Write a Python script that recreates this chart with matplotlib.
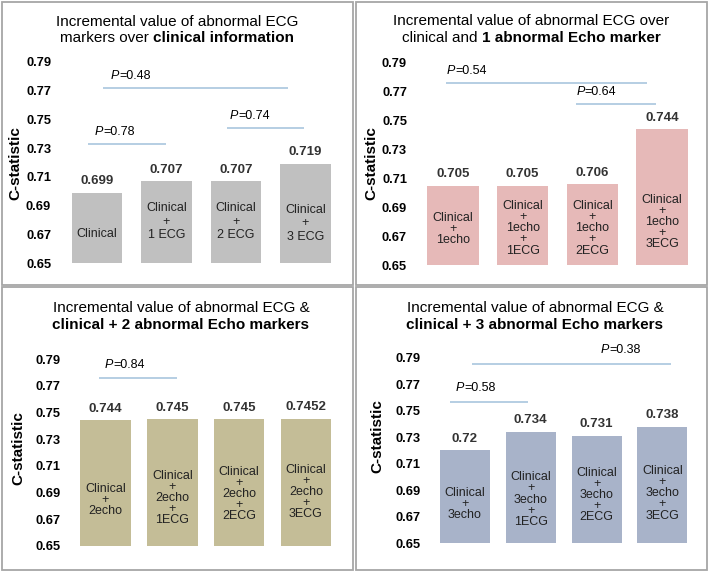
import matplotlib
matplotlib.use("Agg")
import matplotlib.pyplot as plt
from matplotlib.patches import Rectangle
from matplotlib.transforms import offset_copy

plt.rcParams['font.family'] = ['Liberation Sans', 'DejaVu Sans']

W, H = 709, 572

# ---------------- data ----------------
p1_values = [0.699, 0.707, 0.707, 0.719]
p1_value_labels = ["0.699", "0.707", "0.707", "0.719"]
p1_bar_text = ["Clinical", "Clinical\n+\n1 ECG", "Clinical\n+\n2 ECG", "Clinical\n+\n3 ECG"]
p1_title = [[("Incremental value of abnormal ECG", "normal")],
            [("markers over", "normal"), ("clinical information", "bold")]]
p1_pvals = [("0.48", 0.09, 2.75, 0.772), ("0.78", -0.13, 0.99, 0.733), ("0.74", 1.87, 2.98, 0.744)]

p2_values = [0.705, 0.705, 0.706, 0.744]
p2_value_labels = ["0.705", "0.705", "0.706", "0.744"]
p2_bar_text = ["Clinical\n+\n1echo", "Clinical\n+\n1echo\n+\n1ECG",
               "Clinical\n+\n1echo\n+\n2ECG", "Clinical\n+\n1echo\n+\n3ECG"]
p2_title = [[("Incremental value of abnormal ECG over", "normal")],
            [("clinical and", "normal"), ("1 abnormal Echo marker", "bold")]]
p2_pvals = [("0.54", -0.1, 2.78, 0.776), ("0.64", 1.76, 2.91, 0.7615)]

p3_values = [0.744, 0.745, 0.745, 0.7452]
p3_value_labels = ["0.744", "0.745", "0.745", "0.7452"]
p3_bar_text = ["Clinical\n+\n2echo", "Clinical\n+\n2echo\n+\n1ECG",
               "Clinical\n+\n2echo\n+\n2ECG", "Clinical\n+\n2echo\n+\n3ECG"]
p3_title = [[("Incremental value of abnormal ECG &", "normal")],
            [("clinical + 2 abnormal Echo markers", "bold")]]
p3_pvals = [("0.84", -0.1, 1.07, 0.776)]

p4_values = [0.72, 0.734, 0.731, 0.738]
p4_value_labels = ["0.72", "0.734", "0.731", "0.738"]
p4_bar_text = ["Clinical\n+\n3echo", "Clinical\n+\n3echo\n+\n1ECG",
               "Clinical\n+\n3echo\n+\n2ECG", "Clinical\n+\n3echo\n+\n3ECG"]
p4_title = [[("Incremental value of abnormal ECG &", "normal")],
            [("clinical + 3 abnormal Echo markers", "bold")]]
p4_pvals = [("0.38", 0.1, 3.13, 0.785), ("0.58", -0.23, 0.96, 0.7568)]

y_ticks = [0.65, 0.67, 0.69, 0.71, 0.73, 0.75, 0.77, 0.79]
y_label = "C-statistic"

# ---------------- layout (pixels) ----------------
panels = [
    dict(values=p1_values, vlabels=p1_value_labels, btext=p1_bar_text, title=p1_title, pvals=p1_pvals,
         color="#c0c0c0", x0=97, dx=69.5, y0=263, dy=1436, bw=0.72,
         text_y=[0.670, 0.6788, 0.6788, 0.6776], ls=1.15,
         title_x=177, title_y=[22, 38], ylab=(15, 163), box=(2, 2, 353, 285),
         ptext_x=[0.2, -0.03, 1.91], ptext_dy=0.0085),
    dict(values=p2_values, vlabels=p2_value_labels, btext=p2_bar_text, title=p2_title, pvals=p2_pvals,
         color="#e6b9b8", x0=453, dx=69.67, y0=265, dy=1443, bw=0.74,
         text_y=[0.6747, 0.6754, 0.6754, 0.680], ls=0.9,
         title_x=531, title_y=[21, 38], ylab=(371, 163), box=(356, 2, 707, 285),
         ptext_x=[-0.09, 1.77], ptext_dy=0.0085),
    dict(values=p3_values, vlabels=p3_value_labels, btext=p3_bar_text, title=p3_title, pvals=p3_pvals,
         color="#c4bd97", x0=105.5, dx=66.8, y0=545.7, dy=1333, bw=0.76,
         text_y=[0.684, 0.686, 0.689, 0.6905], ls=0.9,
         title_x=181, title_y=[308, 325], ylab=(18, 448), box=(2, 287, 353, 570),
         ptext_x=[-0.01], ptext_dy=0.0095),
    dict(values=p4_values, vlabels=p4_value_labels, btext=p4_bar_text, title=p4_title, pvals=p4_pvals,
         color="#a8b3c9", x0=465, dx=65.8, y0=543.3, dy=1326, bw=0.76,
         text_y=[0.6796, 0.683, 0.6864, 0.6877], ls=0.9,
         title_x=535, title_y=[308, 325], ylab=(377, 436), box=(356, 287, 707, 570),
         ptext_x=[2.06, -0.14], ptext_dy=0.0105),
]

fig = plt.figure(figsize=(W / 100, H / 100), dpi=100)
renderer = fig.canvas.get_renderer()

LINE_COLOR = "#a9c6de"


def fx(x):
    return x / W


def fy(y):
    return 1 - y / H


def mixed_line(parts, xc, y, size):
    """Draw a line of text made of parts with different weights, centred at xc (px)."""
    objs = []
    for txt, w in parts:
        t = fig.text(0, fy(y), txt, fontsize=size, fontweight=w, ha="left", va="center")
        objs.append(t)
    widths = [o.get_window_extent(renderer).width for o in objs]
    a = fig.text(0, 0, "aa", fontsize=size)
    b = fig.text(0, 0, "a a", fontsize=size)
    sp = b.get_window_extent(renderer).width - a.get_window_extent(renderer).width
    a.remove()
    b.remove()
    total = sum(widths) + sp * (len(objs) - 1)
    x = xc - total / 2
    for o, w in zip(objs, widths):
        o.set_x(fx(x))
        x += w + sp


def p_text(ax, x, y, val, size=9):
    t1 = ax.text(x, y, "P", fontsize=size, fontstyle="italic", ha="left", va="center")
    w = t1.get_window_extent(renderer).width
    tr = offset_copy(ax.transData, fig=fig, x=w, y=0, units="dots")
    ax.text(x, y, "=" + val, fontsize=size, ha="left", va="center", transform=tr)


for k, p in enumerate(panels):
    x1, y1, x2, y2 = p["box"]
    fig.patches.append(Rectangle((fx(x1), fy(y2)), fx(x2 - x1), (y2 - y1) / H,
                                 transform=fig.transFigure, fill=False,
                                 edgecolor="#a6a6a6", linewidth=1.3))
    left = p["x0"] - 0.5 * p["dx"]
    rect = [fx(left), fy(p["y0"]), 4 * p["dx"] / W, 0.15 * p["dy"] / H]
    ax = fig.add_axes(rect)
    ax.set_xlim(-0.5, 3.5)
    ax.set_ylim(0.65, 0.80)
    for s in ax.spines.values():
        s.set_visible(False)
    ax.set_xticks([])
    ax.set_yticks(y_ticks)
    ax.set_yticklabels(["%.2f" % v for v in y_ticks], fontsize=9.3, fontweight="bold")
    ax.tick_params(axis="y", length=0, pad=8)
    ax.patch.set_visible(False)

    xs = list(range(len(p["values"])))
    heights = [v - 0.65 for v in p["values"]]
    ax.bar(xs, heights, bottom=0.65, width=p["bw"], color=p["color"], edgecolor="none")

    for i, (v, lab) in enumerate(zip(p["values"], p["vlabels"])):
        ax.annotate(lab, (i, v), xytext=(0, 4), textcoords="offset points",
                    ha="center", va="bottom", fontsize=9.5, fontweight="bold", color="#333333")
        ax.text(i, p["text_y"][i], p["btext"][i], ha="center", va="center",
                fontsize=9, linespacing=p["ls"], color="#222222")

    for j, (val, xa, xb, yv) in enumerate(p["pvals"]):
        ax.plot([xa, xb], [yv, yv], color=LINE_COLOR, linewidth=1.2, solid_capstyle="butt",
                clip_on=False)
        p_text(ax, p["ptext_x"][j], yv + p["ptext_dy"], val)

    for line, yy in zip(p["title"], p["title_y"]):
        mixed_line(line, p["title_x"], yy, 11)

    fig.text(fx(p["ylab"][0]), fy(p["ylab"][1]), y_label, rotation=90, fontsize=11,
             fontweight="bold", ha="center", va="center")

fig.savefig("out.png", dpi=100)
